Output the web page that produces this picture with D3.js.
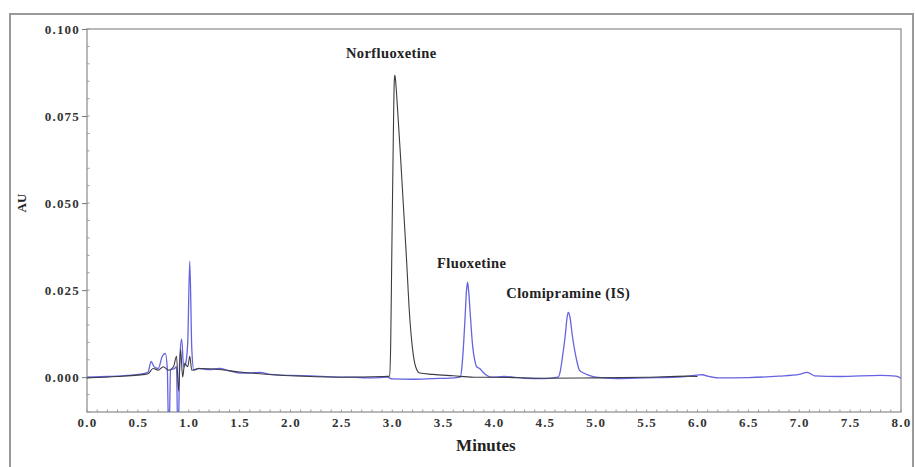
<!DOCTYPE html>
<html>
<head>
<meta charset="utf-8">
<script src="https://cdn.jsdelivr.net/npm/d3@7"></script>
<style>
  body { margin: 0; background: #fff; }
  text { font-family: "Liberation Serif", "DejaVu Serif", serif; font-weight: bold; }
</style>
</head>
<body>
<div id="chart"></div>
<script>
// blue trace (sample with fluoxetine + IS), time in minutes / absorbance
var blueTime = [0.0,0.2,0.4,0.55,0.6,0.63,0.66,0.70,0.74,0.77,0.79,0.80,0.81,0.82,0.86,0.88,0.89,0.90,0.91,0.93,0.95,0.97,0.99,1.01,1.03,1.05,1.1,1.2,1.3,1.4,1.5,1.6,1.7,1.8,2.0,2.2,2.4,2.6,2.8,2.95,3.0,3.2,3.4,3.6,3.67,3.685,3.70,3.715,3.73,3.74,3.75,3.77,3.79,3.81,3.83,3.86,3.89,3.93,3.98,4.1,4.3,4.5,4.63,4.65,4.67,4.70,4.72,4.73,4.745,4.77,4.81,4.84,4.88,4.93,5.0,5.2,5.5,5.8,6.0,6.05,6.1,6.2,6.5,6.8,7.0,7.08,7.15,7.4,7.8,7.95,8.0];
var blueAU = [0.0,0.0002,0.0005,0.001,0.0015,0.0045,0.003,0.0025,0.006,0.0068,0.002,-0.013,-0.013,0.002,0.0025,0.003,-0.013,-0.013,0.004,0.011,0.003,0.004,0.01,0.0333,0.008,0.002,0.0025,0.0022,0.0025,0.0018,0.0012,0.0012,0.0014,0.0008,0.0005,0.0004,0.0001,0.0,-0.0002,0.0,-0.0005,-0.0006,-0.0004,-0.0002,0.0,0.003,0.009,0.0167,0.025,0.0273,0.025,0.0167,0.009,0.005,0.003,0.0025,0.0015,0.0005,0.0,0.0002,-0.0003,-0.0004,0.0,0.0015,0.0052,0.0119,0.0175,0.0186,0.0175,0.0119,0.0052,0.002,0.0012,0.0006,0.0,-0.0004,-0.0002,0.0,0.0006,0.0007,0.0003,-0.0002,-0.0001,0.0003,0.0008,0.0014,0.0004,0.0002,0.0005,0.0003,-0.0003];

// black trace (norfluoxetine run)
var blackTime = [0.0,0.3,0.5,0.6,0.65,0.7,0.75,0.8,0.85,0.88,0.90,0.92,0.94,0.96,0.99,1.01,1.03,1.1,1.3,1.5,1.7,2.0,2.5,2.9,2.975,2.985,2.995,3.01,3.02,3.025,3.03,3.05,3.08,3.11,3.14,3.17,3.20,3.23,3.27,3.4,3.6,3.8,4.0,4.5,5.0,5.5,5.9,6.0];
var blackAU = [-0.0002,0.0002,0.0006,0.001,0.0025,0.002,0.003,0.002,0.003,0.006,-0.004,0.008,0.0,0.004,0.003,0.006,0.002,0.0025,0.0022,0.0015,0.001,0.0004,0.0,0.0002,0.0003,0.01,0.034,0.068,0.085,0.0868,0.086,0.078,0.064,0.049,0.034,0.018,0.008,0.003,0.0012,0.0008,0.0004,0.0,0.0,-0.0003,-0.0002,0.0,0.0003,0.0002];

var peakLabels = ["Norfluoxetine", "Fluoxetine", "Clomipramine (IS)"];
var peakLabelTime = [2.99, 3.78, 4.73];
var peakLabelAU = [0.0918, 0.0313, 0.0228];

var xTicks = [0,0.5,1,1.5,2,2.5,3,3.5,4,4.5,5,5.5,6,6.5,7,7.5,8];
var yTicks = [0, 0.025, 0.05, 0.075, 0.1];

var W = 915, H = 467;
var margin = {top: 29, right: 14, bottom: 55, left: 87};
var width = W - margin.left - margin.right;
var height = H - margin.top - margin.bottom;

var svg = d3.select("#chart").append("svg")
    .attr("width", W)
    .attr("height", H);

// outer frame
svg.append("rect")
    .attr("x", 10).attr("y", 14)
    .attr("width", 903).attr("height", 470)
    .attr("fill", "none")
    .attr("stroke", "#9a9a9a")
    .attr("stroke-width", 2);

var g = svg.append("g")
    .attr("transform", "translate(" + margin.left + "," + margin.top + ")");

var x = d3.scaleLinear().domain([0, 8]).range([0, width]);
var y = d3.scaleLinear().domain([-0.01, 0.1]).range([height, 0]);

g.append("defs").append("clipPath").attr("id", "clip")
    .append("rect").attr("width", width).attr("height", height);

// plot frame
g.append("rect")
    .attr("width", width).attr("height", height)
    .attr("fill", "none")
    .attr("stroke", "#8a8a8a")
    .attr("stroke-width", 1.2);

// minor ticks
var minorX = d3.range(0, 81).map(function(d){ return d / 10; });
g.selectAll(".mx").data(minorX).enter().append("line")
    .attr("x1", function(d){ return x(d); }).attr("x2", function(d){ return x(d); })
    .attr("y1", height).attr("y2", height - 2.5)
    .attr("stroke", "#999");
var minorY = d3.range(-2, 21).map(function(d){ return d * 0.005; });
g.selectAll(".my").data(minorY).enter().append("line")
    .attr("x1", 0).attr("x2", 2.5)
    .attr("y1", function(d){ return y(d); }).attr("y2", function(d){ return y(d); })
    .attr("stroke", "#999");

var xAxis = d3.axisBottom(x).tickValues(xTicks).tickSize(0).tickPadding(6)
    .tickFormat(d3.format(".1f"));
var yAxis = d3.axisLeft(y).tickValues(yTicks).tickSize(5).tickPadding(2)
    .tickFormat(d3.format(".3f"));

var gx = g.append("g").attr("transform", "translate(0," + height + ")").call(xAxis);
var gy = g.append("g").call(yAxis);
[gx, gy].forEach(function(a){
    a.select(".domain").remove();
    a.selectAll("line").attr("stroke", "#777");
    a.selectAll("text").attr("fill", "#333")
        .style("font-size", "13px").style("letter-spacing", "1.2px");
});

// traces
var line = d3.line()
    .x(function(d){ return x(d[0]); })
    .y(function(d){ return y(d[1]); })
    .curve(d3.curveMonotoneX);

var plot = g.append("g").attr("clip-path", "url(#clip)");

plot.append("path")
    .datum(d3.zip(blueTime, blueAU))
    .attr("d", line)
    .attr("fill", "none")
    .attr("stroke", "#6464e0")
    .attr("stroke-width", 1.3);

plot.append("path")
    .datum(d3.zip(blackTime, blackAU))
    .attr("d", line)
    .attr("fill", "none")
    .attr("stroke", "#3c3c44")
    .attr("stroke-width", 1.1);

// peak labels
g.selectAll(".plab").data(peakLabels).enter().append("text")
    .attr("x", function(d, i){ return x(peakLabelTime[i]); })
    .attr("y", function(d, i){ return y(peakLabelAU[i]); })
    .attr("text-anchor", "middle")
    .attr("fill", "#222")
    .style("font-size", "14.5px")
    .style("letter-spacing", "0.4px")
    .text(function(d){ return d; });

// axis titles
g.append("text")
    .attr("x", x(3.92))
    .attr("y", height + 39)
    .attr("text-anchor", "middle")
    .attr("fill", "#222")
    .style("font-size", "17px")
    .text("Minutes");

g.append("text")
    .attr("transform", "rotate(-90)")
    .attr("x", -(y(0.05)))
    .attr("y", -61)
    .attr("text-anchor", "middle")
    .attr("fill", "#222")
    .style("font-size", "13px")
    .text("AU");
</script>
</body>
</html>
